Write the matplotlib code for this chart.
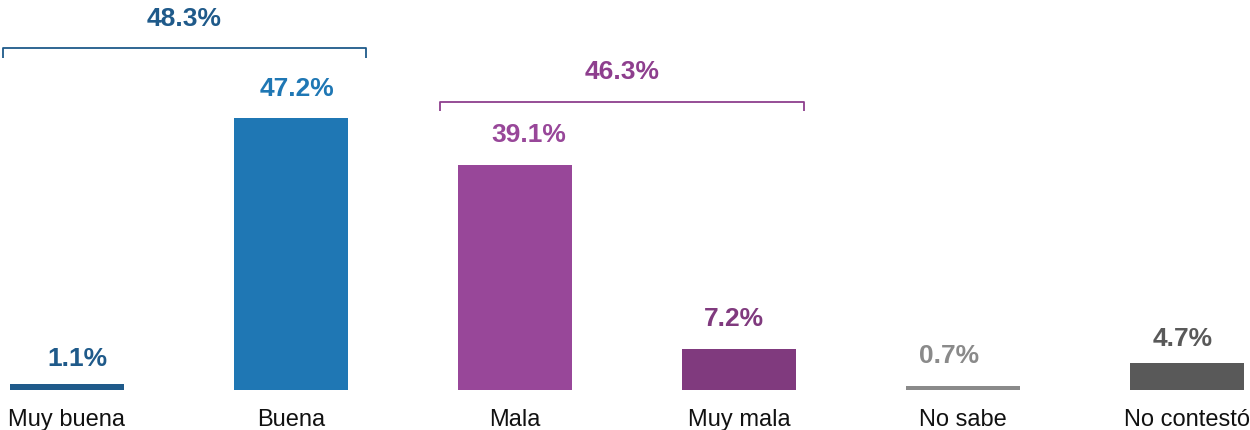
import matplotlib
matplotlib.use("Agg")
import matplotlib.pyplot as plt

categories = ["Muy buena", "Buena", "Mala", "Muy mala", "No sabe", "No contestó"]
values = [1.1, 47.2, 39.1, 7.2, 0.7, 4.7]
bar_colors = ["#1F5A8A", "#1F77B4", "#984799", "#803A7E", "#8A8A8A", "#595959"]

group_labels = ["48.3%", "46.3%"]
group_members = [(0, 1), (2, 3)]
group_colors = ["#1F5A8A", "#8E3F8E"]

plt.rcParams["font.family"] = ["Liberation Sans", "DejaVu Sans"]

W, H, DPI = 1250, 430, 100
fig = plt.figure(figsize=(W / DPI, H / DPI), dpi=DPI)
ax = fig.add_axes([0, 0, 1, 1])

px_per_unit_x = 224.0
x0_px = 67.0
px_per_unit_y = 5.76
base_px = 390.0  # from top
ax.set_xlim(-x0_px / px_per_unit_x, (W - x0_px) / px_per_unit_x)
ax.set_ylim(-(H - base_px) / px_per_unit_y, base_px / px_per_unit_y)
ax.axis("off")

PT = 72.0 / DPI  # points per pixel

# label placement nudges (pixels)
label_dx = [10, 6.5, 13.5, -5, -13.5, -4.5]
label_dy = [17.3, 22.3, 22.7, 23, 23, 16.7]

xs = list(range(len(categories)))
ax.bar(xs, values, width=0.505, color=bar_colors)

for x, v, c, name, dx, dy in zip(xs, values, bar_colors, categories, label_dx, label_dy):
    ax.annotate(f"{v:.1f}%", (x, v), xytext=(dx * PT, dy * PT), textcoords="offset points",
                ha="center", va="baseline", fontsize=19, fontweight="bold", color=c)
    ax.annotate(name, (x, 0), xytext=(0, -35.7 * PT), textcoords="offset points",
                ha="center", va="baseline", fontsize=17, color="#111111")

# brackets
bracket_pad = [(-0.287, 0.335), (-0.333, 0.288)]
bracket_y = [59.3, 50.05]
tip = 1.6
for (a, b), (pl, pr), y, lab, c in zip(group_members, bracket_pad, bracket_y, group_labels, group_colors):
    xl, xr = a + pl, b + pr
    ax.plot([xl, xl, xr, xr], [y - tip, y, y, y - tip], color=c, lw=1.3,
            solid_joinstyle="round", solid_capstyle="butt")
    ax.annotate(lab, ((xl + xr) / 2, y), xytext=(0, 22.8 * PT), textcoords="offset points",
                ha="center", va="baseline", fontsize=19, fontweight="bold", color=c)

fig.savefig("out.png", dpi=DPI)
